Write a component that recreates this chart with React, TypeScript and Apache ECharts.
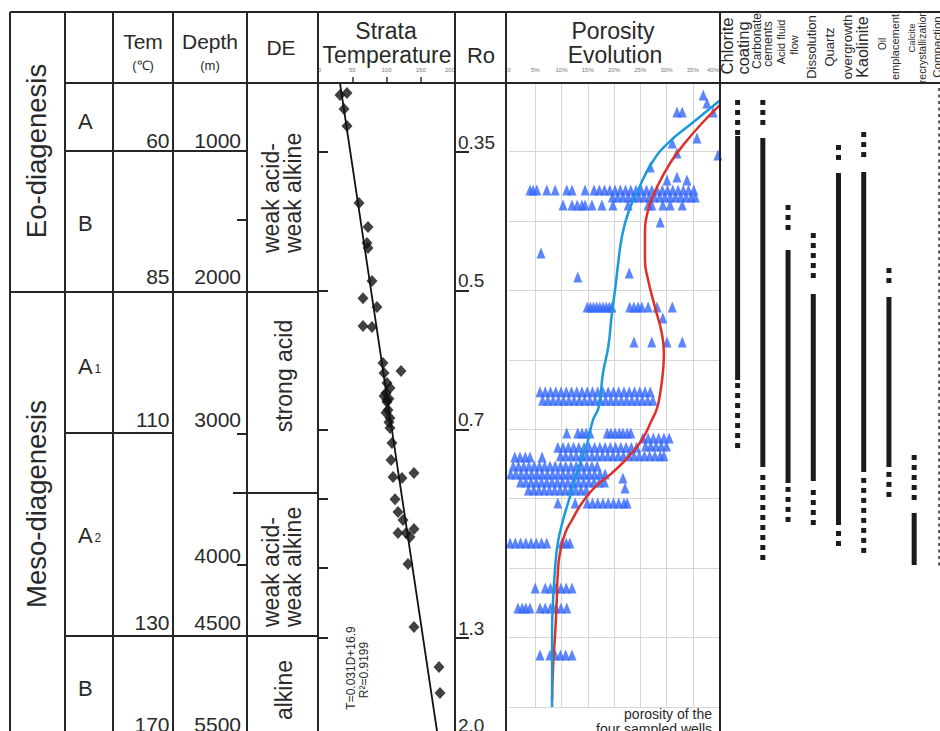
import React, { useEffect, useRef } from 'react';
import * as echarts from 'echarts';

const FONT = '"Liberation Sans", Arial, Helvetica, sans-serif';
const INK = '#2a2a2a';
const LINE = '#262626';

// ---------------- data ----------------
const DEPTH_TOP = 500;
const DEPTH_BOTTOM = 5300;
const PORO_DEPTH_BOTTOM = 5000;

const tempDepthTicks = [1000, 2000, 3000, 3500, 4000, 4500];
const roDepths = [1000, 2000, 3000, 4500, 5200];
const roLabels = ['0.35', '0.5', '0.7', '1.3', '2.0'];

// [temperature °C, depth m]
const tempPoints: [number, number][] = [
  [32.1, 593], [42.3, 579], [38.0, 694], [42.3, 816], [59.9, 1371], [73.0, 1543], [71.5, 1659],
  [73.0, 1695], [78.8, 1932], [65.7, 2056], [86.1, 2120], [65.7, 2256], [78.8, 2264], [94.9, 2523],
  [121.2, 2581], [96.4, 2595], [100.7, 2667], [105.1, 2703], [99.3, 2739], [96.4, 2760], [103.6, 2780],
  [100.7, 2789], [100.7, 2803], [102.2, 2861], [99.3, 2880], [105.1, 2918], [103.6, 2950], [105.1, 2990],
  [108.0, 3098], [106.6, 3221], [109.5, 3344], [122.6, 3351], [140.1, 3315], [112.4, 3503], [116.8, 3596],
  [124.1, 3653], [116.8, 3747], [128.5, 3747], [140.1, 3718], [134.3, 3776], [131.4, 3970], [140.1, 4423],
  [176.6, 4711], [178.1, 4898],
];
const tempFit: [number, number][] = [[31.9, 500], [177.6, 5300]];
const fitLabel = 'T=0.031D+16.9';
const r2Label = 'R²=0.9199';

// porosity (%) vs depth (m) trend curves
const blueCurve: [number, number][] = [
  [42.5, 560], [39.8, 644], [34.9, 795], [30.3, 939], [27.2, 1083], [24.6, 1277], [22.7, 1443],
  [21.5, 1615], [20.8, 1803], [20.2, 1997], [19.6, 2163], [18.9, 2407], [17.9, 2595], [17.1, 2839],
  [16.0, 2933], [14.9, 3099], [13.1, 3293], [11.6, 3487], [10.3, 3653], [9.3, 3818], [8.8, 3991],
  [8.4, 4229], [8.2, 4466], [8.2, 4711], [8.2, 4999],
];
const redCurve: [number, number][] = [
  [42.9, 570], [40.2, 665], [36.8, 795], [33.5, 939], [30.7, 1083], [28.2, 1255], [26.5, 1421],
  [25.9, 1615], [25.9, 1781], [26.5, 1925], [27.8, 2120], [29.1, 2307], [29.5, 2451], [29.3, 2595],
  [28.8, 2739], [28.2, 2847], [27.2, 2933], [25.3, 3077], [22.7, 3200], [19.6, 3315], [16.4, 3415],
  [13.9, 3531], [12.0, 3653], [10.7, 3747], [9.7, 3891], [9.3, 4035], [9.1, 4229], [8.8, 4466],
  [8.4, 4711], [8.2, 4949],
];
// measured porosity of the four sampled wells: [depth m, porosities %]
const porosityRows: [number, number[]][] = [
  [593, [37.0]], [651, [37.7]], [716, [32.0, 33.0, 38.9]], [903, [35.8]], [939, [31.1]], [1011, [32.0]],
  [1025, [39.8]], [1112, [26.9]], [1184, [32.0]], [1206, [30.1, 33.9]],
  [1277, [4.0, 4.6, 5.3, 7.2, 8.8, 11.0, 12.0, 14.5, 16.2, 17.2, 18.2, 19.2, 20.2, 21.2, 22.2, 23.2, 24.2, 25.2, 26.2, 27.2, 28.2, 29.2, 30.2, 31.2, 32.2, 33.2, 34.2, 35.2]],
  [1328, [19.7, 20.7, 21.7, 22.7, 23.7, 24.7, 25.7, 26.7, 27.7, 28.7, 29.7, 30.7, 31.7, 32.7, 33.7, 34.7, 35.5]],
  [1385, [10.3, 12.0, 13.0, 13.9, 14.5, 15.8, 17.7, 19.8, 22.7, 26.5, 27.2, 29.3, 30.7, 33.0]],
  [1508, [28.8]], [1731, [6.1]], [1875, [22.9]], [1904, [13.1]],
  [2120, [14.9, 15.5, 16.1, 16.7, 17.3, 17.9, 18.5, 19.1, 19.6, 23.0, 23.8, 24.6, 25.3, 26.5, 28.2, 31.1]],
  [2199, [29.3]],
  [2372, [23.8, 27.2, 30.1, 33.0]],
  [2730, [5.9, 6.9, 7.9, 8.9, 9.9, 10.9, 11.9, 12.9, 13.9, 14.9, 15.9, 16.9, 17.9, 18.9, 19.9, 20.9, 21.9, 22.9, 23.9, 24.9, 25.9, 26.9]],
  [2790, [6.4, 7.4, 8.4, 9.4, 10.4, 11.4, 12.4, 13.4, 14.4, 15.4, 16.4, 17.4, 18.4, 19.4, 20.4, 21.4, 22.4, 23.4, 24.4, 25.4, 26.4, 27.4]],
  [3027, [11.0, 13.1, 13.9, 14.7, 15.4, 18.7, 19.4, 20.2, 21.0, 21.7, 22.5, 23.2]],
  [3063, [25.5, 26.5, 27.5, 28.5, 29.5, 30.5]],
  [3121, [26.0, 27.0, 28.0, 29.0, 30.0]],
  [3130, [9.3, 10.3, 11.3, 12.3, 13.3, 14.3, 15.3, 16.3, 17.3, 18.3, 19.3, 20.3, 21.3, 22.3, 23.3, 24.3]],
  [3190, [9.8, 10.8, 11.8, 12.8, 13.8, 14.8, 15.8, 16.8, 17.8, 18.8, 19.8, 20.8, 21.8, 22.8, 23.8, 24.8, 25.8, 26.8, 27.8, 28.8, 29.5]],
  [3200, [1.1, 2.1, 3.1, 4.0, 6.3]],
  [3264, [0.8, 1.8, 2.8, 3.8, 4.8, 5.8, 6.8, 7.8, 8.8, 9.8, 10.8, 11.8, 12.8, 13.8, 14.8, 15.8, 16.8]],
  [3322, [0.3, 1.3, 2.3, 3.3, 4.3, 5.3, 6.3, 7.3, 8.3, 9.3, 10.3, 11.3, 12.3, 13.3, 14.3, 15.3, 16.3, 17.3, 18.3]],
  [3351, [21.7]],
  [3380, [2.2, 3.2, 4.2, 5.2, 6.2, 7.2, 8.2, 9.2, 10.2, 11.2, 12.2, 13.2, 14.2, 15.2, 16.2, 17.2, 18.2]],
  [3423, [22.1]],
  [3437, [3.7, 4.7, 5.7, 6.7, 7.7, 8.7, 9.7, 10.7, 11.7, 12.7, 13.7, 14.7]],
  [3531, [9.3, 12.6, 14.9, 15.9, 16.9, 17.9, 18.9, 19.9, 20.9, 21.9, 22.5]],
  [3819, [0.2, 1.2, 2.2, 3.2, 4.2, 5.2, 6.2, 7.2, 10.1, 10.9, 11.6]],
  [4143, [5.0, 6.9, 7.9, 8.9, 9.9, 10.9, 12.0]],
  [4287, [1.7, 2.5, 3.2, 4.0, 5.9, 6.9, 7.9, 8.9, 9.9, 11.0]],
  [4625, [5.9, 7.8, 8.8, 9.8, 10.8, 12.0]],
];

// diagenetic events, depth ranges (m)
const eventNames = [
  'Chlorite coating', 'Carbonate cements', 'Acid fluid flow', 'Dissolution', 'Quartz overgrowth',
  'Kaolinite', 'Oil emplacement', 'Calcite recrystallization', 'Compaction',
];
const eventUncertainAbove: ([number, number] | null)[] = [
  [629, 889], [629, 867], [1385, 1615], [1587, 1976], [953, 1119], [860, 1097], [1839, 1997], [3185, 3559], null,
];
const eventCertain: ([number, number] | null)[] = [
  [889, 2645], [903, 3271], [1709, 3386], [2026, 3372], [1155, 3689], [1148, 3307], [2047, 3271], [3602, 3977], null,
];
const eventUncertainBelow: ([number, number] | null)[] = [
  [2667, 3150], [3329, 3941], [3415, 3667], [3437, 3689], [3732, 3890], [3350, 3955], [3307, 3545], null, null,
];
const eventContinuous: ([number, number] | null)[] = [null, null, null, null, null, null, null, null, [543, 3984]];

// table texts
const majorStages = ['Eo-diagenesis', 'Meso-diagenesis'];
const subStages: [string, string][] = [['A', ''], ['B', ''], ['A', '1'], ['A', '2'], ['B', '']];
const temLabels = ['60', '85', '110', '130', '170'];
const depthLabels = ['1000', '2000', '3000', '4000', '4500', '5500'];
const deZones = ['weak acid-\nweak alkine', 'strong acid', 'weak acid-\nweak alkine', 'alkine'];

// ---------------- layout ----------------
const W = 940, H = 731;
const Y0 = 12.6, PXM = 0.1389;
const GRID_TOP = Y0 + DEPTH_TOP * PXM;
const COLX = [10, 65, 113, 173, 247, 318, 455, 506, 720];
const TOPY = 12, HEADY = 83;

function seg(x1: number, y1: number, x2: number, y2: number, w = 2, stroke = LINE) {
  return { type: 'line', z: 100, shape: { x1, y1, x2, y2 }, style: { stroke, lineWidth: w } };
}
function txt(text: string, x: number, y: number, fontSize: number, o: any = {}) {
  return {
    type: 'text', z: 100, x, y, rotation: o.rot || 0,
    style: {
      text, fontSize, fontFamily: FONT, fill: o.fill || INK,
      align: o.align || 'center', verticalAlign: o.va || 'middle', lineHeight: o.lh,
    },
  };
}
const ROT = Math.PI / 2;

function buildGraphic() {
  const g: any[] = [];
  // frame
  g.push(seg(COLX[0], TOPY, W, TOPY));
  g.push(seg(COLX[1], HEADY, W, HEADY));
  COLX.forEach((x) => g.push(seg(x, TOPY, x, H + 2)));
  g.push(seg(COLX[1], 151, COLX[4], 151));
  g.push(seg(COLX[0], 292, COLX[5], 292));
  g.push(seg(COLX[1], 433, COLX[3], 433));
  g.push(seg(COLX[1], 636, COLX[5], 636));
  g.push(seg(233, 493, COLX[5], 493));
  [220, 434, 565].forEach((y) => g.push(seg(237, y, COLX[4], y)));

  // headers
  g.push(txt('Tem', 143, 41, 21));
  g.push(txt('(℃)', 143, 65, 13));
  g.push(txt('Depth', 210, 41, 21));
  g.push(txt('(m)', 210, 65, 13));
  g.push(txt('DE', 281, 47, 21));
  g.push(txt('Strata', 386, 31, 23));
  g.push(txt('Temperature', 387, 55, 23));
  g.push(txt('Ro', 481, 55, 22));
  g.push(txt('Porosity', 613, 31, 23));
  g.push(txt('Evolution', 615, 55, 23));

  // stages
  g.push(txt(majorStages[0], 36, 151, 27.5, { rot: ROT }));
  g.push(txt(majorStages[1], 36, 504, 27.5, { rot: ROT }));
  const subY = [121, 223.5, 366, 535, 688];
  subStages.forEach(([a, s], i) => {
    g.push(txt(a, 78, subY[i], 22, { align: 'left' }));
    if (s) g.push(txt(s, 94.5, subY[i] + 3, 12, { align: 'left' }));
  });
  const temY = [140.5, 276.5, 419.5, 622.5, 724.5];
  temLabels.forEach((t, i) => g.push(txt(t, 169.5, temY[i], 21, { align: 'right' })));
  const depY = [140.5, 276.5, 419.5, 555.5, 622.5, 724.5];
  depthLabels.forEach((t, i) => g.push(txt(t, 241, depY[i], 21, { align: 'right' })));

  // DE column
  g.push(txt(deZones[0], 282, 253, 23, { rot: ROT, align: 'left', lh: 22 }));
  g.push(txt(deZones[1], 284, 376, 23, { rot: ROT }));
  g.push(txt(deZones[2], 282, 627, 23, { rot: ROT, align: 'left', lh: 22 }));
  g.push(txt(deZones[3], 284, 690, 23, { rot: ROT }));

  // regression note
  g.push(txt(fitLabel, 351, 668, 12, { rot: ROT }));
  g.push(txt(r2Label, 364, 670, 12, { rot: ROT }));

  // porosity note
  g.push(txt('porosity of the', 712, 714, 14, { align: 'right' }));
  g.push(txt('four sampled wells', 712, 729, 14, { align: 'right' }));

  // event headers
  const heads: [string, number, number, number][] = [
    ['Chlorite', 727, 46, 16.5], ['coating', 743, 48, 16.5],
    ['Carbonate', 757, 41, 12], ['cements', 768, 44, 12],
    ['Acid fluid', 781, 42, 11], ['flow', 794, 45, 11],
    ['Dissolution', 811, 47, 13],
    ['Quartz', 829, 47, 13], ['overgrowth', 847, 47, 13],
    ['Kaolinite', 862, 47, 16],
    ['Oil', 882, 44, 10], ['emplacement', 895, 47, 11],
    ['Calcite', 911, 38, 9.5], ['recrystallization', 922, 47, 10.5],
    ['Compaction', 937, 47, 11.5],
  ];
  heads.forEach(([t, x, y, f]) => g.push(txt(t, x, y, f, { rot: ROT })));
  return g;
}

function buildEventData() {
  const data: number[][] = [];
  eventNames.forEach((_, i) => {
    const a = eventUncertainAbove[i], c = eventCertain[i], b = eventUncertainBelow[i], d = eventContinuous[i];
    if (a) data.push([i, 1, a[0], a[1]]);
    if (c) data.push([i, 0, c[0], c[1]]);
    if (b) data.push([i, 1, b[0], b[1]]);
    if (d) data.push([i, 2, d[0], d[1]]);
  });
  return data;
}

function buildPorosity() {
  const pts: [number, number][] = [];
  porosityRows.forEach(([d, list]) => list.forEach((p) => pts.push([p, d])));
  return pts;
}

function buildOption(): any {
  const tempGridH = (DEPTH_BOTTOM - DEPTH_TOP) * PXM;
  const poroGridH = (PORO_DEPTH_BOTTOM - DEPTH_TOP) * PXM;
  return {
    animation: false,
    backgroundColor: '#fff',
    grid: [
      { left: COLX[5], top: GRID_TOP, width: COLX[6] - COLX[5], height: tempGridH, outerBoundsMode: 'none', containLabel: false },
      { left: 509, top: GRID_TOP, width: 210, height: poroGridH, outerBoundsMode: 'none', containLabel: false },
      { left: 725, top: GRID_TOP, width: 227, height: tempGridH, outerBoundsMode: 'none', containLabel: false },
    ],
    xAxis: [
      {
        gridIndex: 0, type: 'value', position: 'top', min: 0, max: 200, interval: 50,
        axisLine: { show: false },
        axisTick: { show: true, length: 5, lineStyle: { color: '#333', width: 1.5 } },
        axisLabel: {
          fontSize: 6, color: '#777', margin: 9, fontFamily: FONT,
          alignMinLabel: 'left', alignMaxLabel: 'right',
        },
        splitLine: { show: false },
      },
      {
        gridIndex: 1, type: 'value', position: 'top', min: 0, max: 40, interval: 5,
        axisLine: { show: false }, axisTick: { show: false },
        axisLabel: {
          fontSize: 6, color: '#777', margin: 9, fontFamily: FONT,
          formatter: (v: number) => (v === 0 ? '0' : v + '%'), alignMaxLabel: 'right',
        },
        splitLine: { show: true, showMinLine: false, showMaxLine: false, lineStyle: { color: '#d6d6d6', width: 1 } },
      },
      { gridIndex: 2, type: 'category', data: eventNames, show: false },
    ],
    yAxis: [
      {
        gridIndex: 0, type: 'value', inverse: true, min: DEPTH_TOP, max: DEPTH_BOTTOM, position: 'left',
        axisLine: { show: false },
        axisTick: { show: true, inside: true, length: 10, customValues: tempDepthTicks, lineStyle: { color: LINE, width: 2 } },
        axisLabel: { show: false }, splitLine: { show: false },
      },
      {
        gridIndex: 0, type: 'value', inverse: true, min: DEPTH_TOP, max: DEPTH_BOTTOM, position: 'right',
        axisLine: { show: false },
        axisTick: { show: true, length: 14, customValues: roDepths, lineStyle: { color: LINE, width: 2 } },
        axisLabel: {
          show: true, customValues: roDepths, margin: 3, verticalAlign: 'bottom', align: 'left',
          fontSize: 19, color: INK, fontFamily: FONT,
          formatter: (v: number) => roLabels[roDepths.indexOf(v)] ?? '',
        },
        splitLine: { show: false },
      },
      {
        gridIndex: 1, type: 'value', inverse: true, min: DEPTH_TOP, max: PORO_DEPTH_BOTTOM, interval: 500,
        axisLine: { show: false }, axisTick: { show: false }, axisLabel: { show: false },
        splitLine: { show: true, lineStyle: { color: '#d6d6d6', width: 1 } },
      },
      { gridIndex: 2, type: 'value', inverse: true, min: DEPTH_TOP, max: DEPTH_BOTTOM, show: false },
    ],
    series: [
      {
        type: 'scatter', xAxisIndex: 0, yAxisIndex: 0, data: tempPoints, symbol: 'diamond',
        symbolSize: [11, 12], itemStyle: { color: '#111' }, z: 4, clip: false,
      },
      {
        type: 'line', xAxisIndex: 0, yAxisIndex: 0, data: tempFit, symbol: 'none',
        lineStyle: { color: '#111', width: 1.8 }, z: 3,
      },
      {
        type: 'scatter', xAxisIndex: 1, yAxisIndex: 2, data: buildPorosity(), symbol: 'triangle',
        symbolSize: [9, 11], itemStyle: { color: '#3468fb' }, z: 3, clip: false,
      },
      {
        type: 'line', xAxisIndex: 1, yAxisIndex: 2, data: redCurve, symbol: 'none', smooth: true,
        lineStyle: { color: '#df2f27', width: 2.5 }, z: 5, clip: true,
      },
      {
        type: 'line', xAxisIndex: 1, yAxisIndex: 2, data: blueCurve, symbol: 'none', smooth: true,
        lineStyle: { color: '#1a9ad8', width: 2.5 }, z: 6, clip: true,
      },
      {
        type: 'custom', xAxisIndex: 2, yAxisIndex: 3, data: buildEventData(),
        encode: { x: 0, y: [2, 3] }, clip: false,
        renderItem: (_p: any, api: any) => {
          const idx = api.value(0), kind = api.value(1);
          const p1 = api.coord([idx, api.value(2)]);
          const p2 = api.coord([idx, api.value(3)]);
          const x = p1[0];
          if (kind === 0) {
            return { type: 'rect', shape: { x: x - 2.5, y: p1[1], width: 5, height: p2[1] - p1[1] }, style: { fill: '#1b1b1b' } };
          }
          const size = kind === 1 ? 5 : 3;
          const step = kind === 1 ? 10 : 6.5;
          const w = kind === 1 ? 5 : 2.5;
          const fill = kind === 1 ? '#1b1b1b' : '#555';
          const children: any[] = [];
          for (let y = p1[1]; y + size <= p2[1] + 0.5; y += step) {
            children.push({ type: 'rect', shape: { x: x - w / 2, y, width: w, height: size }, style: { fill } });
          }
          return { type: 'group', children };
        },
      },
    ],
    graphic: buildGraphic(),
  };
}

export default function App() {
  const ref = useRef<HTMLDivElement>(null);
  useEffect(() => {
    if (!ref.current) return;
    const chart = echarts.init(ref.current, undefined, { renderer: 'svg', width: W, height: H });
    chart.setOption(buildOption());
    return () => chart.dispose();
  }, []);
  return (
    <div
      ref={ref}
      style={{ position: 'absolute', left: 0, top: 0, width: W, height: H, background: '#fff', overflow: 'hidden' }}
    />
  );
}
